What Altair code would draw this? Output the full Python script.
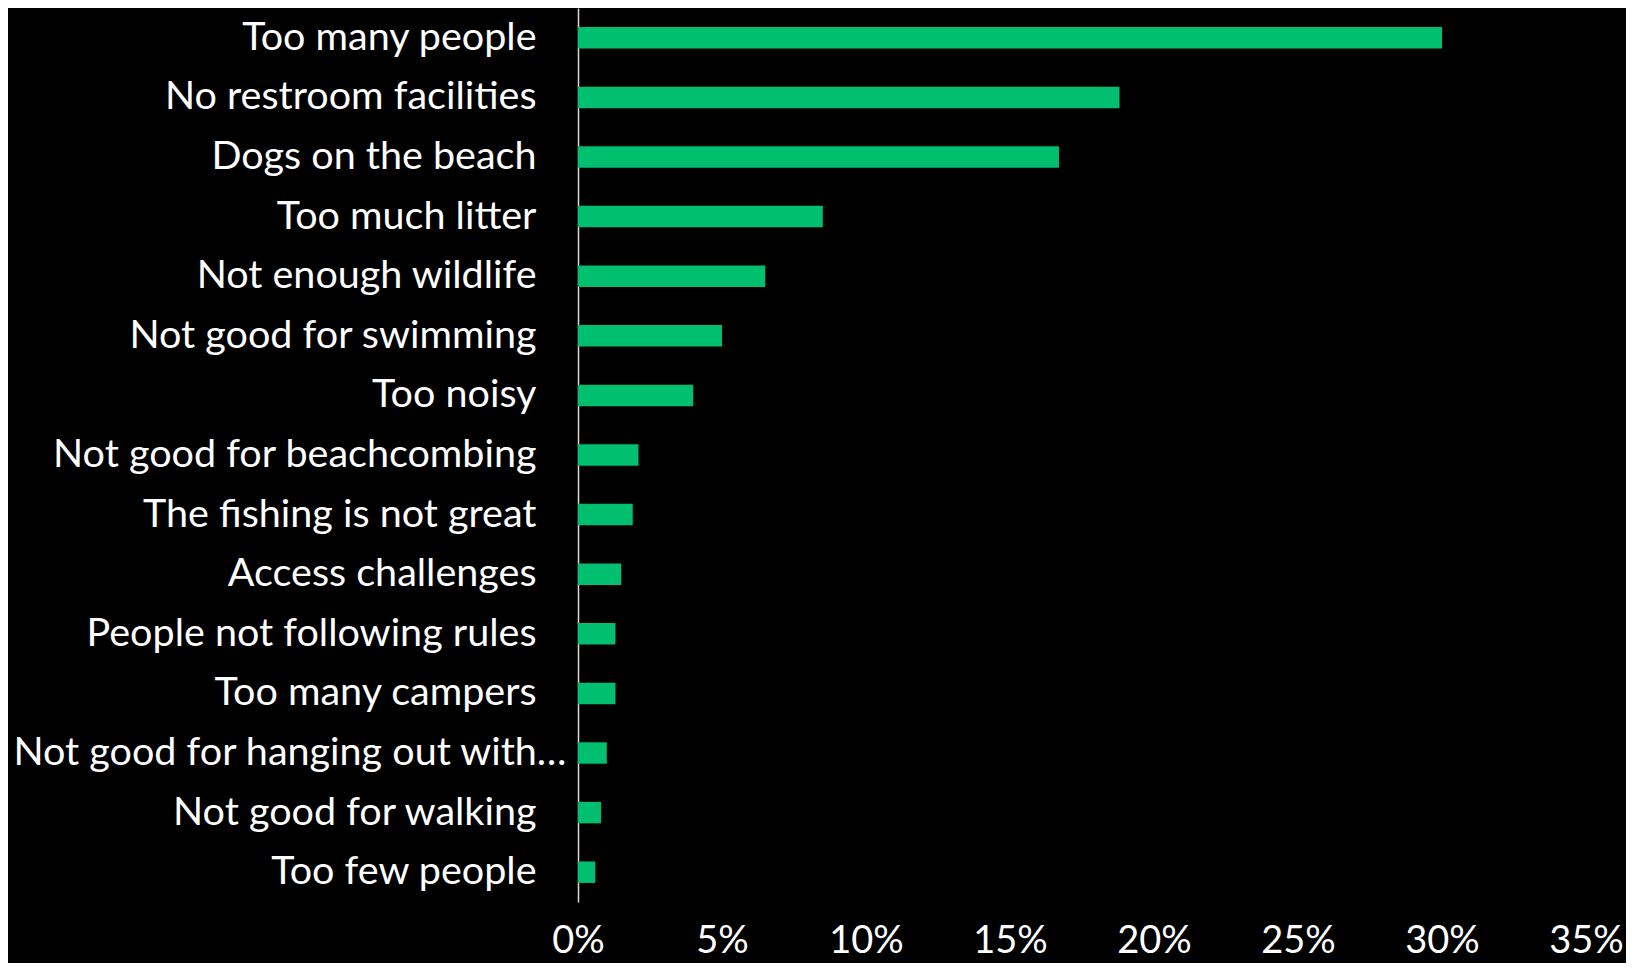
import altair as alt
import pandas as pd

categories = [
    "Too many people",
    "No restroom facilities",
    "Dogs on the beach",
    "Too much litter",
    "Not enough wildlife",
    "Not good for swimming",
    "Too noisy",
    "Not good for beachcombing",
    "The fishing is not great",
    "Access challenges",
    "People not following rules",
    "Too many campers",
    "Not good for hanging out with\u2026",
    "Not good for walking",
    "Too few people",
]
shares = [0.300, 0.188, 0.167, 0.085, 0.065, 0.050, 0.040, 0.021, 0.019,
          0.015, 0.013, 0.013, 0.010, 0.008, 0.006]
x_ticks = [0, 0.05, 0.10, 0.15, 0.20, 0.25, 0.30, 0.35]

df = pd.DataFrame({"category": categories, "share": shares})

FONT = "Lato"

chart = (
    alt.Chart(df)
    .mark_bar(color="#00BF6F")
    .encode(
        x=alt.X(
            "share:Q",
            scale=alt.Scale(domain=[0, 0.35], nice=False, zero=True),
            axis=alt.Axis(
                values=x_ticks,
                format=".0%",
                title=None,
                grid=False,
                domain=False,
                ticks=False,
                labelColor="#FFFFFF",
                labelFont=FONT,
                labelFontSize=38,
                labelPadding=20,
                labelFlush=False,
                labelOverlap=False,
            ),
        ),
        y=alt.Y(
            "category:N",
            sort=categories,
            scale=alt.Scale(paddingInner=0.64, paddingOuter=0.32),
            axis=alt.Axis(
                title=None,
                grid=False,
                ticks=False,
                domain=True,
                domainColor="#D9D9D9",
                domainWidth=1.5,
                labelColor="#FFFFFF",
                labelFont=FONT,
                labelFontSize=39.5,
                labelPadding={
                    "condition": {
                        "test": "test(regexp('hanging'), datum.label)",
                        "value": 12,
                    },
                    "value": 42,
                },
                labelLimit=700,
            ),
        ),
    )
    .properties(
        width=1008,
        height=894,
        background="#000000",
        padding={"left": 570, "top": 0, "right": 40, "bottom": 61},
        autosize=alt.AutoSizeParams(type="none"),
    )
    .configure_view(stroke=None)
)

chart.save("out.html", embed_options={"renderer": "svg", "actions": False})
